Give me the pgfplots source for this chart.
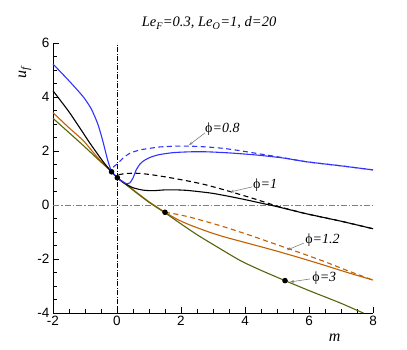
\documentclass[border=0pt]{standalone}
\usepackage{fontspec}
\setmainfont{Liberation Serif}
\setsansfont{Liberation Sans}
\usepackage{pgfplots}
\pgfplotsset{compat=1.18}
\usetikzlibrary{arrows.meta}
\definecolor{cblue}{RGB}{50,50,255}
\definecolor{corange}{RGB}{195,95,0}
\definecolor{colive}{RGB}{90,100,10}

\begin{document}
\begin{tikzpicture}
\path[use as bounding box] (-53pt,-36pt) rectangle (354pt,313pt);
\begin{axis}[
    at={(0,0)}, anchor=south west,
    scale only axis, width=320pt, height=270pt,
    xmin=-2, xmax=8, ymin=-4, ymax=6,
    axis x line*=bottom, axis y line*=left,
    axis line style={-, line width=0.8pt},
    xtick={-2,0,...,8}, ytick={-4,-2,...,6},
    minor x tick num=3, minor y tick num=3,
    tick align=inside,
    major tick length=6pt, minor tick length=4pt,
    tick style={black, line width=0.7pt},
    ticklabel style={font=\sffamily\fontsize{13.5}{13.5}\selectfont},
    /pgf/number format/assume math mode=true,
    every axis plot/.append style={line width=1.1pt},
    clip=false,
]
% reference lines
\addplot[black, line width=0.6pt, dash pattern=on 5pt off 1.5pt on 1pt off 1.5pt] coordinates {(0,-4) (0,6)};
\addplot[gray, line width=0.8pt, dash pattern=on 6pt off 2pt on 1.5pt off 2pt] coordinates {(-2,0) (8,0)};

% phi = 1.2
\addplot[corange, smooth, tension=0.4] coordinates {
(-2,3.42) (-1.5,2.86) (-1.05,2.38) (-0.6,1.75) (-0.17,1.23) (0.01,1.01) (0.5,0.57) (1.0,0.12) (1.5,-0.27) (1.9,-0.54) (2.28,-0.74) (2.8,-0.97) (3.32,-1.17) (4.1,-1.42) (4.88,-1.67) (5.7,-1.95) (6.45,-2.22) (7.2,-2.5) (8,-2.78)};
\addplot[corange, smooth, tension=0.4, dash pattern=on 5pt off 3.5pt] coordinates {
(1.5,-0.27) (1.9,-0.35) (2.28,-0.45) (2.8,-0.62) (3.32,-0.8) (4.1,-1.1) (4.88,-1.42) (5.7,-1.76) (6.45,-2.08) (7.2,-2.43) (8,-2.78)};

% phi = 3
\addplot[colive, smooth, tension=0.4] coordinates {
(-2,3.21) (-1.5,2.68) (-1.05,2.2) (-0.6,1.7) (-0.17,1.23) (0.01,1.01) (0.5,0.55) (1.0,0.1) (1.5,-0.29) (2.0,-0.7) (2.5,-1.1) (3.0,-1.46) (3.84,-2.05) (4.5,-2.42) (5.25,-2.8) (6.0,-3.17) (6.45,-3.38) (7.0,-3.64) (7.5,-3.9) (7.7,-4.0)};

% phi = 1
\addplot[black, smooth, tension=0.4] coordinates {
(-2,4.23) (-1.47,3.4) (-0.84,2.28) (-0.43,1.6) (-0.17,1.23) (0.01,1.01) (0.2,0.83) (0.5,0.64) (0.82,0.55) (1.13,0.53) (1.5,0.56) (1.86,0.56) (2.2,0.54) (2.6,0.49) (3.0,0.43) (3.5,0.32) (4.0,0.2) (4.5,0.07) (5.0,-0.06) (5.9,-0.32) (7.0,-0.6) (8,-0.88)};
\addplot[black, smooth, tension=0.4, dash pattern=on 5pt off 3.5pt] coordinates {
(0.05,1.12) (0.3,1.17) (0.72,1.17) (1.2,1.1) (1.76,0.99) (2.3,0.87) (2.8,0.74) (3.53,0.5) (4.37,0.2) (5.0,-0.04) (5.9,-0.32) (7.0,-0.6) (8,-0.88)};

% phi = 0.8
\addplot[cblue, smooth, tension=0.4] coordinates {
(-2,5.22) (-1.5,4.6) (-1.05,4.0) (-0.8,3.55) (-0.6,3.0) (-0.45,2.4) (-0.3,1.7) (-0.17,1.25) (0.01,1.01) (0.19,0.86) (0.3,0.79) (0.4,0.82) (0.5,1.0) (0.6,1.3) (0.72,1.52) (0.85,1.65) (1.03,1.76) (1.3,1.86) (1.76,1.94) (2.3,1.97) (2.8,1.97) (3.5,1.93) (4.37,1.85) (5.2,1.74) (5.93,1.6) (7,1.45) (8,1.3)};
\addplot[cblue, smooth, tension=0.4, dash pattern=on 5pt off 3.5pt] coordinates {
(-0.12,1.4) (0.03,1.55) (0.2,1.75) (0.41,1.92) (0.72,2.04) (1.03,2.1) (1.34,2.15) (1.8,2.18) (2.28,2.18) (2.8,2.15) (3.3,2.1) (3.8,2.02) (4.37,1.91) (5.2,1.75) (5.93,1.6) (7,1.45) (8,1.3)};

% junction points
\addplot[only marks, mark=*, mark size=2.2pt, black] coordinates {
(-0.17,1.23) (0.01,1.01) (1.5,-0.27) (5.25,-2.8)};

% title and axis labels
\node[font=\fontsize{14.5}{14.5}\selectfont\itshape] at (rel axis cs:0.4875,1.074)
  {Le\textsubscript{F}=0.3, Le\textsubscript{O}=1, d=20};
\node[font=\fontsize{16}{16}\selectfont\itshape] at (rel axis cs:0.88,-0.093) {m};
\node[font=\fontsize{16}{16}\selectfont\itshape, rotate=90] at (rel axis cs:-0.0875,0.889) {u\textsubscript{f}};

% labels
\tikzset{lbl/.style={anchor=west, inner sep=0pt, font=\fontsize{14}{14}\selectfont},
         ptr/.style={gray, line width=0.6pt, -{Stealth[length=4pt,width=3pt]}}}
\node[lbl] at (axis cs:2.75,2.81) {ϕ\textit{=0.8}};
\draw[ptr] (axis cs:2.75,2.67) -- (axis cs:2.25,2.22);
\node[lbl] at (axis cs:4.25,0.74) {ϕ\textit{=1}};
\draw[ptr] (axis cs:4.22,0.67) -- (axis cs:3.53,0.48);
\node[lbl] at (axis cs:5.88,-1.3) {ϕ\textit{=1.2}};
\draw[ptr] (axis cs:5.84,-1.41) -- (axis cs:5.31,-1.67);
\node[lbl] at (axis cs:6.1,-2.7) {ϕ\textit{=3}};
\draw[ptr] (axis cs:6.03,-2.74) -- (axis cs:5.41,-2.85);
\end{axis}
\end{tikzpicture}
\end{document}
